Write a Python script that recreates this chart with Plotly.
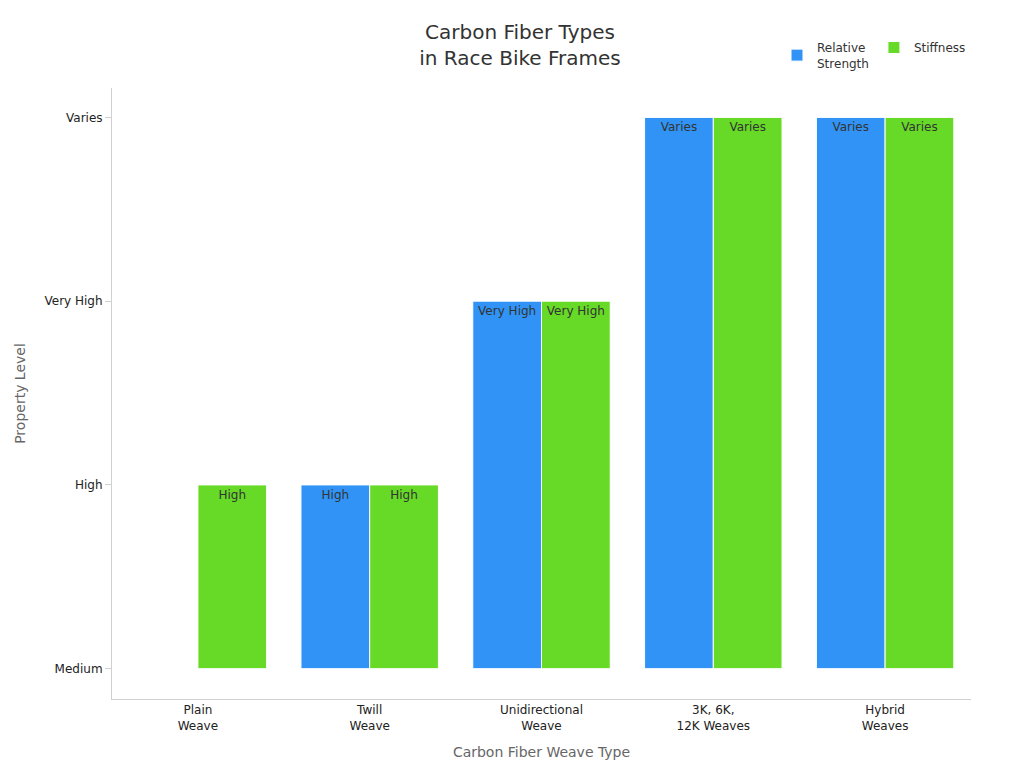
import plotly.graph_objects as go

weave_types = ["Plain<br>Weave", "Twill<br>Weave", "Unidirectional<br>Weave",
               "3K, 6K,<br>12K Weaves", "Hybrid<br>Weaves"]
levels = ["Medium", "High", "Very High", "Varies"]
strength = ["Medium", "High", "Very High", "Varies", "Varies"]
stiffness = ["High", "High", "Very High", "Varies", "Varies"]


def to_num(vals):
    return [levels.index(v) for v in vals]


def to_text(vals):
    return ["" if v == "Medium" else v for v in vals]


fig = go.Figure()
fig.add_trace(go.Bar(x=weave_types, y=to_num(strength), text=to_text(strength),
                     name="Relative<br>Strength", marker_color="#3093F5",
                     marker_line=dict(color="white", width=1)))
fig.add_trace(go.Bar(x=weave_types, y=to_num(stiffness), text=to_text(stiffness),
                     name="Stiffness", marker_color="#66DA26",
                     marker_line=dict(color="white", width=1)))
fig.update_traces(textposition="inside", insidetextanchor="end",
                  textfont=dict(color="#333333", size=12), cliponaxis=False,
                  textangle=0)

fig.update_layout(
    width=1024, height=768,
    paper_bgcolor="white", plot_bgcolor="white",
    font=dict(family="DejaVu Sans", size=12, color="#222222"),
    title=dict(text="Carbon Fiber Types<br>in Race Bike Frames", x=0.5, xanchor="center",
               y=0.96, font=dict(size=20, color="#333333")),
    margin=dict(l=102, r=61, t=80, b=77),
    barmode="group", bargap=0.2, bargroupgap=0,
    uniformtext=dict(minsize=12, mode="show"),
    legend=dict(orientation="h", x=1.0, xanchor="right", y=1.09, yanchor="top",
                font=dict(size=12, color="#333333")),
    xaxis=dict(title=dict(text="Carbon Fiber Weave Type", font=dict(size=14, color="#666666")),
               showline=True, linecolor="#d0d0d0", ticks=""),
    yaxis=dict(title=dict(text="Property Level", font=dict(size=14, color="#666666")),
               range=[-0.165, 3.16], tickvals=[0, 1, 2, 3], ticktext=levels,
               showgrid=False, zeroline=False, showline=True, linecolor="#d0d0d0",
               ticks="outside", tickcolor="#d0d0d0", ticklen=6),
)
fig.write_html("out.html")
